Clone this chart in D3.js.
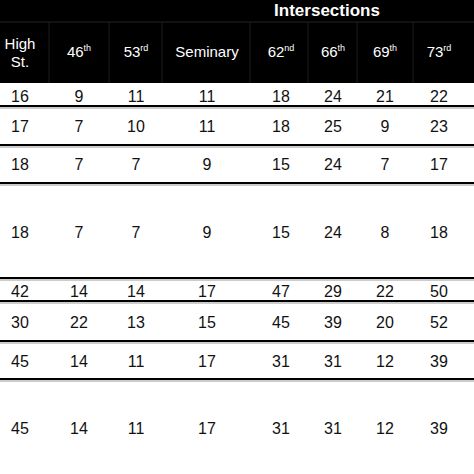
<!DOCTYPE html>
<html><head><meta charset="utf-8">
<script src="https://cdn.jsdelivr.net/npm/d3@7"></script>
<style>body{margin:0;background:#fff}text{font-family:"Liberation Sans",Arial,sans-serif}</style>
</head><body><svg id="t" width="474" height="474"></svg>
<script>
const headers = [["High", "St."], ["46", "th"], ["53", "rd"], ["Seminary", ""], ["62", "nd"], ["66", "th"], ["69", "th"], ["73", "rd"]];
const rows = [
  [16, 9, 11, 11, 18, 24, 21, 22],
  [17, 7, 10, 11, 18, 25, 9, 23],
  [18, 7, 7, 9, 15, 24, 7, 17],
  [18, 7, 7, 9, 15, 24, 8, 18],
  [42, 14, 14, 17, 47, 29, 22, 50],
  [30, 22, 13, 15, 45, 39, 20, 52],
  [45, 14, 11, 17, 31, 31, 12, 39],
  [45, 14, 11, 17, 31, 31, 12, 39],
];
const colCenters = [20, 79, 136, 207, 281, 333, 385, 439];
const colEdges = [49, 109, 162, 250, 308, 357, 413];
const rowCenters = [96, 126, 164, 232, 291, 322, 361, 428];
const rowLines = [106, 145, 183, 278, 301, 341, 379];

const svg = d3.select("#t");

// header block
svg.append("rect").attr("width", 474).attr("height", 83).attr("fill", "#000");
svg.append("text").attr("x", 327).attr("y", 16).attr("fill", "#fff")
  .attr("font-size", 17).attr("font-weight", "bold").attr("text-anchor", "middle").text("Intersections");
svg.append("line").attr("x1", 0).attr("x2", 474).attr("y1", 22).attr("y2", 22).attr("stroke", "#222");
colEdges.forEach((x) => {
  svg.append("line").attr("x1", x).attr("x2", x).attr("y1", 22).attr("y2", 83).attr("stroke", "#1c1c1c");
});

headers.forEach(([main, sup], i) => {
  const x = colCenters[i];
  if (i === 0) {
    const t = svg.append("text").attr("fill", "#fff").attr("font-size", 15).attr("text-anchor", "middle");
    t.append("tspan").attr("x", x).attr("y", 49).text(main);
    t.append("tspan").attr("x", x).attr("y", 67).text(sup);
    return;
  }
  const t = svg.append("text").attr("x", x).attr("y", 57).attr("fill", "#fff")
    .attr("font-size", 15).attr("text-anchor", "middle");
  t.append("tspan").text(main);
  if (sup) t.append("tspan").attr("font-size", 9).attr("dy", -6).text(sup);
});

// body
rowLines.forEach((y) => {
  svg.append("line").attr("x1", 0).attr("x2", 474).attr("y1", y).attr("y2", y)
    .attr("stroke", "#000").attr("stroke-width", 2.2);
  svg.append("line").attr("x1", 0).attr("x2", 474).attr("y1", y + 2).attr("y2", y + 2)
    .attr("stroke", "#999").attr("stroke-width", 1);
});

rows.forEach((r, ri) => {
  svg.selectAll(null).data(r).enter().append("text")
    .attr("x", (d, i) => colCenters[i]).attr("y", rowCenters[ri])
    .attr("dy", "0.35em").attr("text-anchor", "middle").attr("font-size", 16).attr("fill", "#111")
    .text((d) => d);
});
</script></body></html>
